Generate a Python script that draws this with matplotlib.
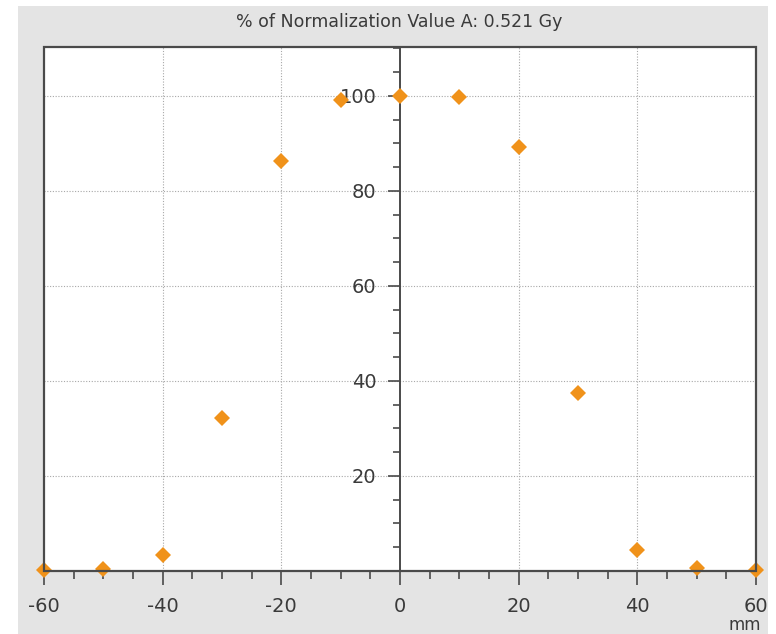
import matplotlib.pyplot as plt
import matplotlib as mpl
from matplotlib.patches import Rectangle
from matplotlib.ticker import MultipleLocator, FixedLocator

# dose profile, percent of normalization value
pos_mm = [-60, -50, -40, -30, -20, -10, 0, 10, 20, 30, 40, 50, 60]
dose_pct = [0.2, 0.4, 3.4, 32.3, 86.2, 99.2, 100.0, 99.8, 89.2, 37.4, 4.4, 0.7, 0.2]

x_ticks = [-60, -40, -20, 0, 20, 40, 60]
y_ticks = [20, 40, 60, 80, 100]
title = "% of Normalization Value A: 0.521 Gy"

plt.rcParams['font.family'] = 'DejaVu Sans'

panel = "#e4e4e4"
frame = "#4a4a4a"
txt = "#3a3a3a"
orange = "#f0921a"

fig = plt.figure(figsize=(7.76, 6.34), dpi=100, facecolor="white")
fig.patches.append(Rectangle((18 / 776, 0), 750 / 776, 628 / 634,
                             transform=fig.transFigure, facecolor=panel,
                             edgecolor="none", zorder=-10))

ax = fig.add_axes([44 / 776, 1 - 571 / 634, 712 / 776, 524 / 634])
ax.set_facecolor("white")

ax.plot(pos_mm, dose_pct, linestyle="none", marker="D", markersize=8,
        color=orange, markeredgewidth=0, clip_on=False, zorder=4)

ax.set_xlim(-60, 60)
ax.set_ylim(0, 110.3)

# y axis runs through x = 0, box drawn separately
ax.spines['left'].set_position(('data', 0))
ax.spines['left'].set_color(frame)
ax.spines['left'].set_linewidth(1.4)
for s in ['top', 'right', 'bottom']:
    ax.spines[s].set_color(frame)
    ax.spines[s].set_linewidth(1.4)
ax.add_patch(Rectangle((0, 0), 1, 1, transform=ax.transAxes, fill=False,
                       edgecolor=frame, linewidth=1.6, clip_on=False, zorder=5))

ax.xaxis.set_major_locator(FixedLocator(x_ticks))
ax.xaxis.set_minor_locator(MultipleLocator(5))
ax.yaxis.set_major_locator(FixedLocator(y_ticks))
ax.yaxis.set_minor_locator(MultipleLocator(5))

ax.tick_params(axis='x', which='major', direction='out', length=10, width=1.2,
               color=frame, labelsize=14, labelcolor=txt, pad=9)
ax.tick_params(axis='x', which='minor', direction='out', length=6, width=1.2,
               color=frame)
ax.tick_params(axis='y', which='major', direction='out', length=9, width=1.2,
               color=frame, labelsize=14, labelcolor=txt, pad=8)
ax.tick_params(axis='y', which='minor', direction='out', length=5, width=1.2,
               color=frame)
ax.set_xticklabels([str(v) for v in x_ticks])
ax.set_yticklabels([str(v) for v in y_ticks])

# dotted grid
for v in x_ticks[1:-1]:
    if v != 0:
        ax.axvline(v, color="#a8a8a8", linewidth=0.8, linestyle=(0, (1, 1.5)), zorder=1)
for v in y_ticks:
    ax.axhline(v, color="#a8a8a8", linewidth=0.8, linestyle=(0, (1, 1.5)), zorder=1)

fig.text(399 / 776, 1 - 22 / 634, title, ha="center", va="center",
         fontsize=12.5, color=txt)
fig.text(745 / 776, 1 - 625 / 634, "mm", ha="center", va="center",
         fontsize=12, color=txt)

plt.savefig("out.png", dpi=100, facecolor=fig.get_facecolor())
